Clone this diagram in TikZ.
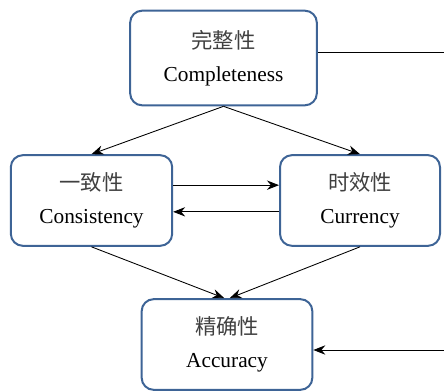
\documentclass[tikz,border=0pt]{standalone}
\usepackage{fontspec}
\setmainfont{Liberation Serif}
\newfontfamily\cjk{Noto Sans CJK SC}
\usetikzlibrary{arrows.meta}
\usetikzlibrary{positioning}
\definecolor{boxblue}{RGB}{62,100,150}

\begin{document}
\begin{tikzpicture}[x=0.75pt, y=-0.75pt,
  dimbox/.style={draw=boxblue, line width=1.5pt, rounded corners=9pt, align=center,
    font=\fontsize{16}{25}\selectfont, minimum height=68pt},
  arr/.style={-{Stealth[length=9pt, width=7pt]}, line width=0.65pt}
  ]

  \useasboundingbox (0,0) rectangle (444,392);

  \node [dimbox, minimum width=140pt, minimum height=71pt] (compl) at (223.5,58) {{\cjk\color{black!75}完整性}\\Completeness};
  \node [dimbox, minimum width=121pt] (consis) at (91.5,200.5) {{\cjk\color{black!75}一致性}\\Consistency};
  \node [dimbox, minimum width=120pt] (curr) at (360,200.5) {{\cjk\color{black!75}时效性}\\Currency};
  \node [dimbox, minimum width=128pt] (accur) at (227,344.5) {{\cjk\color{black!75}精确性}\\Accuracy};

  \coordinate (fbout) at (444,52);
  \coordinate (fbin) at (444,350);

  \draw [arr] (compl.south) -- (consis.north);
  \draw [arr] (compl.south) -- (curr.north);
  \draw [arr] ([yshift=11.5pt]consis.east) -- ([yshift=11.5pt]curr.west);
  \draw [arr] ([yshift=-8.5pt]curr.west) -- ([yshift=-8.5pt]consis.east);
  \draw [arr] (consis.south) -- ([xshift=-2pt]accur.north);
  \draw [arr] (curr.south) -- ([xshift=2pt]accur.north);
  \draw [line width=0.65pt] (fbout -| compl.east) -- (fbout);
  \draw [arr] (fbin) -- (fbin -| accur.east);
\end{tikzpicture}
\end{document}
